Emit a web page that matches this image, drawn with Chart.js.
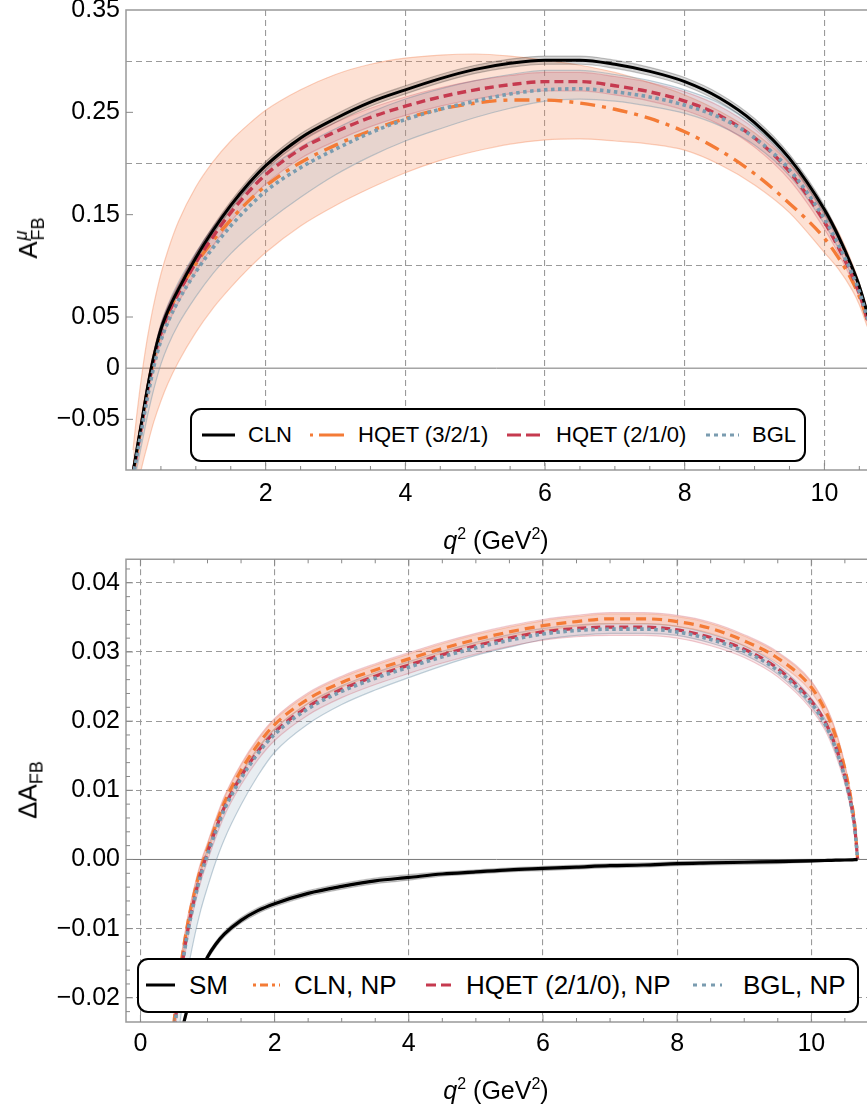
<!DOCTYPE html>
<html>
<head>
<meta charset="utf-8">
<script src="https://cdn.jsdelivr.net/npm/chart.js@4.4.1/dist/chart.umd.min.js"></script>
<style>
  body { margin: 0; background: #fff; width: 867px; height: 1107px; position: relative; overflow: hidden;
         font-family: "Liberation Sans", Arial, sans-serif; color: #000; }
  canvas { position: absolute; left: 0; }
  #topChart { top: -20px; }
  #botChart { top: 530px; }
  .xlab { position: absolute; transform: translate(-50%, -50%); font-size: 25px; white-space: nowrap; }
  .xlab sup { font-size: 16px; vertical-align: 10px; line-height: 0; }
  .ylab { position: absolute; transform: translate(-50%, -50%) rotate(-90deg); font-size: 26px; white-space: nowrap; }
  .stack { display: inline-block; vertical-align: middle; font-size: 18px; line-height: 17px; margin-left: 1px; }
  .stack span { display: block; }
  .sub { font-size: 18px; vertical-align: -6px; }
  .legend { position: absolute; border: 2px solid #000; border-radius: 11px; background: #fff; box-sizing: border-box; }
  .lt { position: absolute; transform: translateY(-50%); white-space: nowrap; }
  .ls { position: absolute; transform: translateY(-50%); }
</style>
</head>
<body>
<canvas id="topChart" width="867" height="575"></canvas>
<canvas id="botChart" width="867" height="577"></canvas>

<div class="ylab" style="left:30px; top:238px;">A<span class="stack"><span><i>μ</i></span><span>FB</span></span></div>
<div class="xlab" style="left:496px; top:540px;"><i>q</i><sup>2</sup> (GeV<sup>2</sup>)</div>
<div class="ylab" style="left:30px; top:790px;">ΔA<span class="sub">FB</span></div>
<div class="xlab" style="left:496px; top:1090px;"><i>q</i><sup>2</sup> (GeV<sup>2</sup>)</div>

<div class="legend" style="left:190px; top:408px; width:616px; height:54px;"></div>
<svg class="ls" style="left:202px; top:435px;" width="33" height="6"><line x1="0" y1="3" x2="33" y2="3" stroke="#000" stroke-width="3"/></svg>
<div class="lt" style="left:248px; top:435px; font-size:22px;">CLN</div>
<svg class="ls" style="left:310px; top:435px;" width="34" height="6"><line x1="0" y1="3" x2="34" y2="3" stroke="#F47B36" stroke-width="3" stroke-dasharray="3 6 25 6"/></svg>
<div class="lt" style="left:358px; top:435px; font-size:22px;">HQET (3/2/1)</div>
<svg class="ls" style="left:507px; top:435px;" width="34" height="6"><line x1="0" y1="3" x2="34" y2="3" stroke="#C63A4F" stroke-width="3" stroke-dasharray="14 5"/></svg>
<div class="lt" style="left:556px; top:435px; font-size:22px;">HQET (2/1/0)</div>
<svg class="ls" style="left:706px; top:435px;" width="33" height="6"><line x1="0" y1="3" x2="33" y2="3" stroke="#7A9CB0" stroke-width="3" stroke-dasharray="4 4"/></svg>
<div class="lt" style="left:752px; top:435px; font-size:22px;">BGL</div>

<div class="legend" style="left:137px; top:958px; width:722px; height:55px;"></div>
<svg class="ls" style="left:146px; top:985px;" width="29" height="6"><line x1="0" y1="3" x2="29" y2="3" stroke="#000" stroke-width="3"/></svg>
<div class="lt" style="left:189px; top:985px; font-size:26px;">SM</div>
<svg class="ls" style="left:253px; top:985px;" width="27" height="6"><line x1="0" y1="3" x2="27" y2="3" stroke="#F47B36" stroke-width="3" stroke-dasharray="3 4 8 4"/></svg>
<div class="lt" style="left:294px; top:985px; font-size:26px;">CLN, NP</div>
<svg class="ls" style="left:426px; top:985px;" width="26" height="6"><line x1="0" y1="3" x2="26" y2="3" stroke="#C63A4F" stroke-width="3" stroke-dasharray="10 5"/></svg>
<div class="lt" style="left:466px; top:985px; font-size:26px;">HQET (2/1/0), NP</div>
<svg class="ls" style="left:693px; top:985px;" width="29" height="6"><line x1="0" y1="3" x2="29" y2="3" stroke="#7A9CB0" stroke-width="3" stroke-dasharray="4 5"/></svg>
<div class="lt" style="left:743px; top:985px; font-size:26px;">BGL, NP</div>

<script>
// ---- upper panel: A_FB^mu vs q^2 ----
const qTop = [0.1, 0.15, 0.2, 0.25, 0.3, 0.35, 0.4, 0.5, 0.6, 0.75, 1, 1.25, 1.5, 1.75, 2, 2.5, 3, 3.5, 4, 4.5,
              5, 5.5, 6, 6.5, 7, 7.5, 8, 8.5, 9, 9.5, 10, 10.2, 10.4, 10.5, 10.6, 10.65, 10.69];

const clnTop   = [-0.102, -0.082, -0.062, -0.042, -0.022, -0.004, 0.012, 0.038, 0.056, 0.077, 0.108, 0.135, 0.159, 0.18, 0.198, 0.225, 0.244, 0.26, 0.272, 0.283,
                  0.292, 0.298, 0.301, 0.301, 0.297, 0.29, 0.28, 0.264, 0.24, 0.205, 0.155, 0.129, 0.098, 0.08, 0.057, 0.042, 0.0];
const clnTopHi = [-0.098, -0.078, -0.058, -0.038, -0.018, 0.0, 0.016, 0.042, 0.06, 0.081, 0.112, 0.139, 0.163, 0.184, 0.202, 0.229, 0.248, 0.264, 0.276, 0.287,
                  0.296, 0.302, 0.305, 0.305, 0.301, 0.294, 0.284, 0.268, 0.244, 0.209, 0.159, 0.132, 0.101, 0.083, 0.059, 0.044, 0.0];
const clnTopLo = [-0.106, -0.086, -0.066, -0.046, -0.026, -0.008, 0.008, 0.034, 0.052, 0.073, 0.104, 0.131, 0.155, 0.176, 0.194, 0.221, 0.24, 0.256, 0.268, 0.279,
                  0.288, 0.294, 0.297, 0.297, 0.293, 0.286, 0.276, 0.26, 0.236, 0.201, 0.151, 0.126, 0.095, 0.077, 0.055, 0.04, 0.0];

const h321Top   = [-0.104, -0.084, -0.064, -0.044, -0.024, -0.006, 0.01, 0.035, 0.053, 0.074, 0.102, 0.125, 0.145, 0.163, 0.178, 0.201, 0.218, 0.232, 0.244, 0.253,
                   0.259, 0.262, 0.262, 0.259, 0.253, 0.244, 0.231, 0.213, 0.19, 0.161, 0.127, 0.108, 0.085, 0.07, 0.05, 0.037, 0.0];
const h321TopHi = [-0.08, -0.048, -0.02, 0.005, 0.027, 0.046, 0.063, 0.092, 0.115, 0.143, 0.177, 0.202, 0.222, 0.238, 0.252, 0.272, 0.287, 0.297, 0.303, 0.306,
                   0.307, 0.305, 0.301, 0.296, 0.289, 0.279, 0.267, 0.251, 0.23, 0.2, 0.156, 0.133, 0.102, 0.083, 0.059, 0.044, 0.0];
const h321TopLo = [-0.13, -0.118, -0.104, -0.09, -0.077, -0.064, -0.052, -0.032, -0.015, 0.006, 0.035, 0.059, 0.079, 0.097, 0.113, 0.139, 0.159, 0.176, 0.191, 0.203,
                   0.212, 0.219, 0.223, 0.224, 0.222, 0.219, 0.213, 0.199, 0.179, 0.152, 0.113, 0.097, 0.076, 0.062, 0.043, 0.032, 0.0];

const h210Top   = [-0.104, -0.085, -0.065, -0.045, -0.025, -0.007, 0.009, 0.034, 0.052, 0.073, 0.103, 0.129, 0.152, 0.172, 0.189, 0.214, 0.231, 0.245, 0.256, 0.265,
                   0.272, 0.277, 0.28, 0.28, 0.276, 0.27, 0.261, 0.247, 0.225, 0.192, 0.143, 0.118, 0.09, 0.073, 0.051, 0.037, 0.0];
const h210TopHi = [-0.096, -0.077, -0.057, -0.037, -0.017, 0.001, 0.017, 0.043, 0.061, 0.082, 0.112, 0.138, 0.161, 0.181, 0.198, 0.223, 0.24, 0.254, 0.265, 0.274,
                   0.281, 0.286, 0.289, 0.289, 0.285, 0.279, 0.27, 0.256, 0.234, 0.2, 0.15, 0.124, 0.095, 0.077, 0.054, 0.039, 0.0];
const h210TopLo = [-0.112, -0.093, -0.073, -0.053, -0.033, -0.015, 0.001, 0.025, 0.043, 0.064, 0.094, 0.12, 0.143, 0.163, 0.18, 0.205, 0.222, 0.236, 0.247, 0.256,
                   0.263, 0.268, 0.271, 0.271, 0.267, 0.261, 0.252, 0.238, 0.216, 0.184, 0.136, 0.112, 0.085, 0.069, 0.048, 0.035, 0.0];

const bglTop   = [-0.106, -0.088, -0.069, -0.05, -0.031, -0.014, 0.002, 0.027, 0.045, 0.066, 0.094, 0.118, 0.139, 0.157, 0.173, 0.196, 0.214, 0.23, 0.243, 0.253,
                  0.261, 0.268, 0.272, 0.273, 0.27, 0.265, 0.257, 0.245, 0.225, 0.194, 0.146, 0.121, 0.092, 0.075, 0.052, 0.038, 0.0];
const bglTopHi = [-0.098, -0.078, -0.058, -0.038, -0.018, 0.0, 0.016, 0.043, 0.062, 0.084, 0.113, 0.138, 0.159, 0.177, 0.193, 0.216, 0.234, 0.25, 0.263, 0.273,
                  0.281, 0.287, 0.291, 0.291, 0.287, 0.281, 0.272, 0.259, 0.237, 0.204, 0.154, 0.128, 0.097, 0.079, 0.055, 0.04, 0.0];
const bglTopLo = [-0.115, -0.1, -0.083, -0.066, -0.049, -0.034, -0.02, 0.004, 0.022, 0.043, 0.07, 0.093, 0.112, 0.128, 0.142, 0.167, 0.189, 0.207, 0.222, 0.234,
                  0.245, 0.254, 0.261, 0.263, 0.261, 0.256, 0.249, 0.237, 0.218, 0.188, 0.141, 0.117, 0.089, 0.072, 0.05, 0.036, 0.0];

const xTicksTop  = [2, 4, 6, 8, 10];
const yTicksTop  = [-0.05, 0, 0.05, 0.1, 0.15, 0.2, 0.25, 0.3, 0.35];
const yLabelsTop = ['\u22120.05', '0', '0.05', '', '0.15', '', '0.25', '', '0.35'];

// ---- lower panel: Delta A_FB vs q^2 ----
const qBot = [0.4, 0.45, 0.5, 0.6, 0.7, 0.8, 0.9, 1.0, 1.12, 1.25, 1.5, 1.75, 2, 2.5, 3, 3.5, 4, 4.5, 5, 5.5,
              6, 6.5, 7, 7.5, 8, 8.5, 9, 9.5, 10, 10.2, 10.3, 10.4, 10.5, 10.6, 10.65, 10.69];

const smBot   = [-0.039, -0.0345, -0.031, -0.0256, -0.0216, -0.0186, -0.0161, -0.0141, -0.0123, -0.0108, -0.0088, -0.0074, -0.0064, -0.0049, -0.0039, -0.0031, -0.0026, -0.0021, -0.0018, -0.0015,
                 -0.0013, -0.0011, -0.0009, -0.0008, -0.0006, -0.0005, -0.0004, -0.0003, -0.0002, -0.00015, -0.00012, -0.0001, -0.00008, -0.00005, -0.00003, 0];
const smBotHi = [-0.0386, -0.0341, -0.0306, -0.0252, -0.0212, -0.0182, -0.0157, -0.0137, -0.0119, -0.0104, -0.0084, -0.007, -0.006, -0.0045, -0.0035, -0.0027, -0.0022, -0.0018, -0.0015, -0.0012,
                 -0.001, -0.0008, -0.0006, -0.0005, -0.0003, -0.0002, -0.0001, -0.00005, 0, 0, 0, 0, 0, 0, 0, 0];
const smBotLo = [-0.0394, -0.0349, -0.0314, -0.026, -0.022, -0.019, -0.0165, -0.0145, -0.0127, -0.0112, -0.0092, -0.0078, -0.0068, -0.0053, -0.0043, -0.0035, -0.003, -0.0024, -0.0021, -0.0018,
                 -0.0016, -0.0014, -0.0012, -0.0011, -0.0009, -0.0008, -0.0007, -0.0006, -0.0004, -0.0003, -0.00025, -0.0002, -0.00016, -0.0001, -0.00006, 0];

const clnNpBot   = [-0.033, -0.028, -0.0235, -0.0155, -0.0095, -0.005, -0.0013, 0.0015, 0.0049, 0.0082, 0.0129, 0.0166, 0.0195, 0.0232, 0.0256, 0.0274, 0.029, 0.0305, 0.0318, 0.0329,
                    0.0338, 0.0344, 0.0348, 0.0348, 0.0344, 0.0334, 0.0316, 0.0291, 0.0249, 0.0217, 0.0195, 0.0167, 0.0131, 0.0083, 0.0048, 0];
const clnNpBotHi = [-0.0323, -0.0273, -0.0228, -0.0148, -0.0088, -0.0043, -0.0006, 0.0022, 0.0056, 0.0089, 0.0136, 0.0173, 0.0202, 0.0239, 0.0263, 0.0281, 0.0297, 0.0312, 0.0325, 0.0336,
                    0.0345, 0.0351, 0.0355, 0.0355, 0.0351, 0.0341, 0.0323, 0.0298, 0.0256, 0.0224, 0.0202, 0.0173, 0.0136, 0.0087, 0.005, 0];
const clnNpBotLo = [-0.0337, -0.0287, -0.0242, -0.0162, -0.0102, -0.0057, -0.002, 0.0008, 0.0042, 0.0075, 0.0122, 0.0159, 0.0188, 0.0225, 0.0249, 0.0267, 0.0283, 0.0298, 0.0311, 0.0322,
                    0.0331, 0.0337, 0.0341, 0.0341, 0.0337, 0.0327, 0.0309, 0.0284, 0.0242, 0.021, 0.0188, 0.0161, 0.0126, 0.0079, 0.0046, 0];

const h210NpBot   = [-0.0347, -0.0297, -0.0252, -0.0167, -0.0105, -0.0058, -0.002, 0.001, 0.0043, 0.0075, 0.012, 0.0156, 0.0184, 0.0221, 0.0246, 0.0265, 0.0281, 0.0296, 0.0309, 0.032,
                     0.0329, 0.0334, 0.0336, 0.0336, 0.0332, 0.0321, 0.0304, 0.0276, 0.0229, 0.02, 0.0179, 0.0153, 0.012, 0.0077, 0.0044, 0];
const h210NpBotHi = [-0.0321, -0.0271, -0.0226, -0.0146, -0.0086, -0.0041, -0.0004, 0.0024, 0.0058, 0.0091, 0.0138, 0.0175, 0.0204, 0.0241, 0.0265, 0.0283, 0.0299, 0.0314, 0.0327, 0.0338,
                     0.0347, 0.0353, 0.0357, 0.0357, 0.0353, 0.0343, 0.0325, 0.03, 0.0258, 0.0226, 0.0204, 0.0175, 0.0138, 0.0089, 0.0052, 0];
const h210NpBotLo = [-0.0359, -0.0309, -0.0264, -0.0179, -0.0117, -0.007, -0.0032, -0.0002, 0.0031, 0.0063, 0.0108, 0.0144, 0.0172, 0.0209, 0.0234, 0.0253, 0.0269, 0.0284, 0.0297, 0.0308,
                     0.0317, 0.0322, 0.0324, 0.0324, 0.032, 0.0309, 0.0292, 0.0264, 0.0217, 0.0188, 0.0167, 0.0141, 0.0109, 0.0066, 0.0035, 0];

const bglNpBot   = [-0.035, -0.03, -0.0255, -0.017, -0.0108, -0.0061, -0.0023, 0.0007, 0.004, 0.0072, 0.0117, 0.0153, 0.0181, 0.0218, 0.0243, 0.0262, 0.0278, 0.0293, 0.0306, 0.0317,
                    0.0326, 0.0331, 0.0333, 0.0333, 0.0329, 0.0318, 0.0301, 0.0273, 0.0226, 0.0197, 0.0176, 0.015, 0.0118, 0.0075, 0.0043, 0];
const bglNpBotHi = [-0.0342, -0.0292, -0.0247, -0.0162, -0.01, -0.0053, -0.0015, 0.0015, 0.0048, 0.008, 0.0125, 0.0161, 0.0189, 0.0226, 0.0251, 0.027, 0.0286, 0.0301, 0.0314, 0.0325,
                    0.0334, 0.0339, 0.0341, 0.0341, 0.0337, 0.0326, 0.0309, 0.0281, 0.0233, 0.0204, 0.0183, 0.0156, 0.0123, 0.0079, 0.0046, 0];
const bglNpBotLo = [-0.041, -0.036, -0.0315, -0.0228, -0.0164, -0.0114, -0.0073, -0.004, -0.0004, 0.0029, 0.0079, 0.0121, 0.0155, 0.0196, 0.0224, 0.0245, 0.0263, 0.028, 0.0295, 0.0307,
                    0.0318, 0.0324, 0.0327, 0.0327, 0.0324, 0.0313, 0.0296, 0.0268, 0.0221, 0.0192, 0.0172, 0.0146, 0.0115, 0.0072, 0.0041, 0];

const xTicksBot  = [0, 2, 4, 6, 8, 10];
const yTicksBot  = [-0.02, -0.01, 0, 0.01, 0.02, 0.03, 0.04];
const yLabelsBot = ['\u22120.02', '\u22120.01', '0.00', '0.01', '0.02', '0.03', '0.04'];

// colours
const ORANGE = '#F47B36', RED = '#C63A4F', BLUE = '#7A9CB0';

function pts(q, v) { return q.map((x, i) => ({ x: x, y: v[i] })); }

function line(q, v, color, width, dash, order) {
  return { data: pts(q, v), borderColor: color, borderWidth: width, borderDash: dash,
           pointRadius: 0, fill: false, cubicInterpolationMode: 'monotone', order: order };
}
function bandHi(q, v, fillColor, edge, order) {
  return { data: pts(q, v), borderColor: edge, borderWidth: 1.2, backgroundColor: fillColor,
           pointRadius: 0, fill: '+1', cubicInterpolationMode: 'monotone', order: order };
}
function bandLo(q, v, edge, order) {
  return { data: pts(q, v), borderColor: edge, borderWidth: 1.2,
           pointRadius: 0, fill: false, cubicInterpolationMode: 'monotone', order: order };
}

const framePlugin = {
  id: 'frame',
  beforeDatasetsDraw(chart, args, o) {
    const { ctx, chartArea: a } = chart;
    const y0 = chart.scales.y.getPixelForValue(0);
    ctx.save();
    ctx.strokeStyle = '#777';
    ctx.lineWidth = 1;
    ctx.beginPath();
    ctx.moveTo(a.left, y0); ctx.lineTo(a.right, y0);
    ctx.stroke();
    ctx.restore();
  },
  afterDatasetsDraw(chart, args, o) {
    const { ctx, chartArea: a } = chart;
    const x = chart.scales.x, y = chart.scales.y;
    ctx.save();
    ctx.strokeStyle = '#999';
    ctx.lineWidth = 1.5;
    ctx.beginPath();
    ctx.moveTo(a.right + 2, a.top); ctx.lineTo(a.left, a.top);
    ctx.lineTo(a.left, a.bottom); ctx.lineTo(a.right + 2, a.bottom);
    ctx.stroke();
    ctx.strokeStyle = '#888';
    ctx.lineWidth = 1;
    ctx.beginPath();
    o.xMinor.forEach(v => {
      const px = x.getPixelForValue(v);
      const len = o.xMajor.includes(v) ? 7 : 4;
      ctx.moveTo(px, a.bottom); ctx.lineTo(px, a.bottom - len);
      if (o.topTicks) { ctx.moveTo(px, a.top); ctx.lineTo(px, a.top + len); }
    });
    o.yMinor.forEach(v => {
      const py = y.getPixelForValue(v);
      const len = o.yMajor.includes(v) ? 7 : 4;
      ctx.moveTo(a.left, py); ctx.lineTo(a.left + len, py);
    });
    ctx.stroke();
    ctx.restore();
  }
};

function halfSteps(a, b) { const r = []; for (let v = a; v <= b + 1e-9; v += 0.5) r.push(Math.round(v * 2) / 2); return r; }
function fine(a, b, s) { const r = []; for (let k = Math.round(a / s); k * s <= b + 1e-9; k++) r.push(Math.round(k * s * 1000) / 1000); return r; }

function makeChart(id, datasets, cfg) {
  const canvas = document.getElementById(id);
  return new Chart(canvas, {
    type: 'line',
    data: { datasets: datasets },
    options: {
      responsive: false,
      animation: false,
      devicePixelRatio: 1,
      events: [],
      layout: { padding: { top: cfg.padTop, left: 0, right: 0, bottom: 0 } },
      plugins: {
        legend: { display: false },
        tooltip: { enabled: false },
        frame: cfg.frame
      },
      scales: {
        x: {
          type: 'linear', min: cfg.xMin, max: cfg.xMax,
          afterBuildTicks: s => { s.ticks = cfg.xTicks.map(v => ({ value: v })); },
          afterFit: s => { s.height = cfg.xHeight; },
          grid: { color: '#9a9a9a', lineWidth: 1.1, drawTicks: false },
          border: { display: false, dash: [6, 4] },
          ticks: { autoSkip: false, maxRotation: 0, padding: cfg.xPad, color: '#000',
                   font: { family: '"Liberation Sans", Arial, sans-serif', size: 25 },
                   callback: v => String(v) }
        },
        y: {
          type: 'linear', min: cfg.yMin, max: cfg.yMax,
          afterBuildTicks: s => { s.ticks = cfg.yTicks.map(v => ({ value: v })); },
          afterFit: s => { s.width = 126; },
          grid: { drawTicks: false, lineWidth: 1.1,
                  color: c => (c.tick && cfg.yGrid.includes(c.tick.value)) ? '#9a9a9a' : 'rgba(0,0,0,0)' },
          border: { display: false, dash: [6, 4] },
          ticks: { autoSkip: false, padding: 6, color: '#000',
                   font: { family: '"Liberation Sans", Arial, sans-serif', size: 25 },
                   callback: (v, i) => cfg.yLabels[i] }
        }
      }
    },
    plugins: [framePlugin]
  });
}

// upper panel
makeChart('topChart', [
  line(qTop, clnTop, '#000', 3, [], 1),
  line(qTop, h210Top, RED, 3.4, [9, 5], 2),
  line(qTop, bglTop, BLUE, 3.6, [3.5, 3.5], 0),
  line(qTop, h321Top, ORANGE, 3.4, [15, 7, 4, 7], 3),
  bandHi(qTop, clnTopHi, 'rgba(0,0,0,0.16)', 'rgba(0,0,0,0.22)', 10),
  bandLo(qTop, clnTopLo, 'rgba(0,0,0,0.22)', 10),
  bandHi(qTop, h210TopHi, 'rgba(200,60,80,0.14)', 'rgba(200,60,80,0.25)', 11),
  bandLo(qTop, h210TopLo, 'rgba(200,60,80,0.25)', 11),
  bandHi(qTop, bglTopHi, 'rgba(120,150,170,0.17)', 'rgba(120,150,170,0.45)', 12),
  bandLo(qTop, bglTopLo, 'rgba(120,150,170,0.45)', 12),
  bandHi(qTop, h321TopHi, 'rgba(247,140,90,0.26)', 'rgba(245,150,110,0.45)', 13),
  bandLo(qTop, h321TopLo, 'rgba(245,150,110,0.45)', 13)
], {
  padTop: 30, xHeight: 85, xPad: 9,
  xMin: 0, xMax: 10.61, yMin: -0.0995, yMax: 0.35,
  xTicks: xTicksTop, yTicks: yTicksTop, yLabels: yLabelsTop, yGrid: [0.1, 0.2, 0.3],
  frame: { xMinor: halfSteps(0.5, 10.5), xMajor: xTicksTop, topTicks: false,
           yMinor: [-0.05, 0.05, 0.15, 0.25], yMajor: [-0.05, 0.05, 0.15, 0.25] }
});

// lower panel
makeChart('botChart', [
  line(qBot, smBot, '#000', 3.2, [], 0),
  line(qBot, bglNpBot, BLUE, 3.6, [3.5, 3.5], 1),
  line(qBot, h210NpBot, RED, 3.2, [9, 5], 2),
  line(qBot, clnNpBot, ORANGE, 3.2, [10, 6], 3),
  bandHi(qBot, smBotHi, 'rgba(0,0,0,0.16)', 'rgba(0,0,0,0.22)', 10),
  bandLo(qBot, smBotLo, 'rgba(0,0,0,0.22)', 10),
  bandHi(qBot, clnNpBotHi, 'rgba(247,140,90,0.25)', 'rgba(245,150,110,0.4)', 11),
  bandLo(qBot, clnNpBotLo, 'rgba(245,150,110,0.4)', 11),
  bandHi(qBot, h210NpBotHi, 'rgba(200,60,80,0.13)', 'rgba(200,60,80,0.25)', 12),
  bandLo(qBot, h210NpBotLo, 'rgba(200,60,80,0.25)', 12),
  bandHi(qBot, bglNpBotHi, 'rgba(120,150,170,0.17)', 'rgba(120,150,170,0.45)', 13),
  bandLo(qBot, bglNpBotLo, 'rgba(120,150,170,0.45)', 13)
], {
  padTop: 29.3, xHeight: 85, xPad: 7,
  xMin: -0.215, xMax: 10.83, yMin: -0.0235, yMax: 0.0434,
  xTicks: xTicksBot, yTicks: yTicksBot, yLabels: yLabelsBot, yGrid: [-0.02, -0.01, 0.01, 0.02, 0.03, 0.04],
  frame: { xMinor: halfSteps(0, 10.5), xMajor: xTicksBot, topTicks: true,
           yMinor: fine(-0.022, 0.042, 0.002), yMajor: yTicksBot }
});
</script>
</body>
</html>
